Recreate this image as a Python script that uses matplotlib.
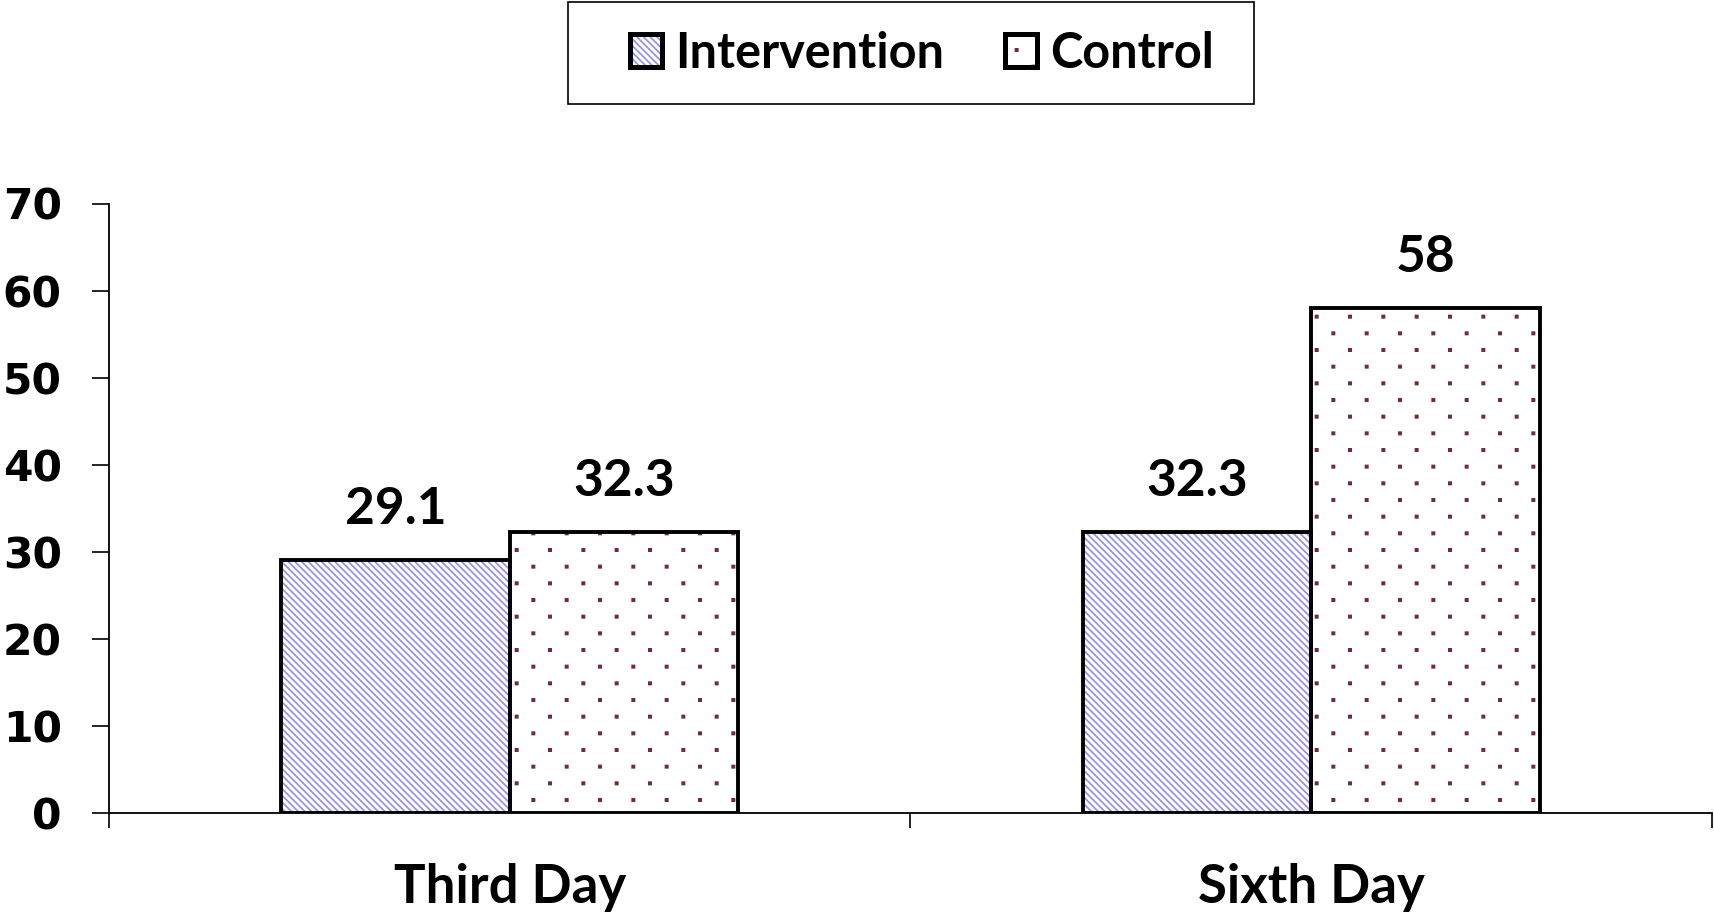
import matplotlib
matplotlib.use("Agg")
import matplotlib.pyplot as plt
import matplotlib.hatch as mhatch
from matplotlib.path import Path
from matplotlib.patches import Patch, Rectangle
import numpy as np

categories = ["Third Day", "Sixth Day"]
intervention = [29.1, 32.3]
control = [32.3, 58]
series_names = ["Intervention", "Control"]
yticks = [0, 10, 20, 30, 40, 50, 60, 70]


# sparse staggered dot lattice for the '.' hatch (Excel-like dotted fill)
class DotLattice(mhatch.HatchPatternBase):
    ncols = 3
    nrows = 6
    half = 0.011

    def __init__(self, hatch, density):
        self.num_vertices = 0
        if hatch.count('.'):
            pts = []
            for r in range(self.nrows + 1):
                if r % 2 == 0:
                    xs = np.arange(self.ncols + 1) / self.ncols
                else:
                    xs = (np.arange(self.ncols) + 0.5) / self.ncols
                for xv in xs:
                    pts.append((xv, r / self.nrows))
            self.pts = np.array(pts)
            self.num_vertices = len(pts) * 5

    def set_vertices_and_codes(self, vertices, codes):
        h = self.half
        sq = np.array([[-h, -h], [h, -h], [h, h], [-h, h], [-h, -h]])
        n = len(self.pts)
        vertices[:] = (sq[None, :, :] + self.pts[:, None, :]).reshape(-1, 2)
        c = np.array([Path.MOVETO, Path.LINETO, Path.LINETO, Path.LINETO, Path.CLOSEPOLY])
        codes[:] = np.tile(c, n)


mhatch._hatch_types = [DotLattice if t is mhatch.SmallFilledCircles else t
                       for t in mhatch._hatch_types]

plt.rcParams['hatch.linewidth'] = 1.3
int_color = "#9a92e8"
ctl_color = "#6e2a48"
lbl_font = "Lato"
int_hatch = "\\" * 5
ctl_hatch = "."

fig = plt.figure(figsize=(17.15, 9.23), dpi=100)
ax = fig.add_axes([109 / 1715, 110 / 923, 1603 / 1715, 609.5 / 923])

x = np.arange(len(categories))
w = 0.285
lw_bar = 2.8

ax.bar(x - w/2, intervention, w, color="white", edgecolor=int_color, hatch=int_hatch, linewidth=0, zorder=2)
ax.bar(x + w/2, control, w, color="white", edgecolor=ctl_color, hatch=ctl_hatch, linewidth=0, zorder=2)
ax.bar(x - w/2, intervention, w, fill=False, edgecolor="black", linewidth=lw_bar, zorder=3)
ax.bar(x + w/2, control, w, fill=False, edgecolor="black", linewidth=lw_bar, zorder=3)

for xs, vals in ((x - w/2, intervention), (x + w/2, control)):
    for xi, v in zip(xs, vals):
        ax.annotate(f"{v:g}", (xi, v), xytext=(0, 26), textcoords="offset points",
                    ha="center", va="baseline", fontsize=37, fontweight="bold", family=lbl_font)

ax.set_xlim(-0.5, len(categories) - 0.5)
ax.set_ylim(0, 70)
ax.set_yticks(yticks)
ax.set_yticklabels([str(t) for t in yticks], fontsize=30.5, fontweight="bold", family="DejaVu Sans")
ax.tick_params(axis="y", direction="out", length=12, width=1.2, pad=22)

ax.set_xticks(x)
ax.set_xticklabels(categories, fontsize=38, fontweight="bold", family=lbl_font)
ax.tick_params(axis="x", which="major", length=0, pad=36)
ax.set_xticks(np.arange(len(categories) + 1) - 0.5, minor=True)
ax.tick_params(axis="x", which="minor", direction="out", length=11, width=1.2)

for s in ["top", "right"]:
    ax.spines[s].set_visible(False)
ax.spines["left"].set_linewidth(1.3)
ax.spines["bottom"].set_linewidth(1.3)

h1 = (Patch(facecolor="white", edgecolor=int_color, hatch=int_hatch, linewidth=0),
      Patch(fill=False, edgecolor="black", linewidth=3.6))
h2 = (Patch(facecolor="white", edgecolor=ctl_color, hatch=ctl_hatch, linewidth=0),
      Patch(fill=False, edgecolor="black", linewidth=3.6))
leg = fig.legend([h1, h2], series_names, loc="center left", bbox_to_anchor=(630 / 1715, 1 - 53 / 923),
                 ncol=2, frameon=False,
                 prop={"family": lbl_font, "weight": "bold", "size": 35},
                 handlelength=0.66, handleheight=0.68, handletextpad=0.27, columnspacing=1.25,
                 borderpad=0, borderaxespad=0)

fig.add_artist(Rectangle((568 / 1715, 1 - 104 / 923), 686 / 1715, 102 / 923,
                         transform=fig.transFigure, fill=False, edgecolor="black", linewidth=1.2))

fig.savefig("out.png", dpi=100, facecolor="white")
